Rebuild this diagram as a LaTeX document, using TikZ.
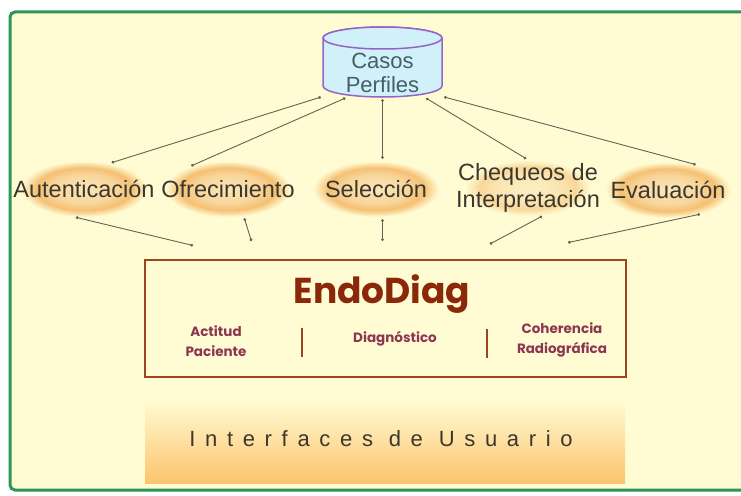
\documentclass[tikz,border=0pt]{standalone}
\usepackage{fontspec}
\setmainfont{Liberation Sans}
\newfontfamily\roundfont{Poppins}
\usetikzlibrary{arrows.meta,shapes.geometric,calc}

\definecolor{BgClr}{RGB}{255,252,212}
\definecolor{FrameClr}{RGB}{45,150,85}
\definecolor{DbFill}{RGB}{208,240,250}
\definecolor{DbLine}{RGB}{150,100,200}
\definecolor{DbText}{RGB}{70,95,100}
\definecolor{GlowIn}{RGB}{251,230,185}
\definecolor{GlowMid}{RGB}{248,214,155}
\definecolor{GlowOut}{RGB}{245,192,115}
\definecolor{LinkClr}{RGB}{100,100,80}
\definecolor{TextClr}{RGB}{60,55,45}
\definecolor{EndoLine}{RGB}{155,70,30}
\definecolor{EndoText}{RGB}{140,40,10}
\definecolor{SubClr}{RGB}{140,55,80}
\definecolor{UiBot}{RGB}{252,196,110}

\pgfdeclareradialshading{glow}{\pgfpoint{0bp}{0bp}}{color(0bp)=(GlowIn); color(13bp)=(GlowMid); color(19bp)=(GlowOut); color(25bp)=(BgClr); color(50bp)=(BgClr)}

\begin{document}
\begin{tikzpicture}[x=1pt,y=-1pt,
  frame/.style={draw=FrameClr,fill=BgClr,line width=3pt,rounded corners=5pt},
  glowell/.style={shape=ellipse,shade,shading=glow,inner sep=0pt,minimum width=126pt,minimum height=56pt},
  lbl/.style={text=TextClr,font=\fontsize{23.5}{27}\selectfont,align=center,inner sep=0pt},
  dbshape/.style={draw=DbLine,fill=DbFill,line width=1.5pt},
  dbnode/.style={minimum width=119pt,minimum height=70pt,inner sep=0pt},
  dbtxt/.style={text=DbText,align=center,inner sep=0pt,font=\fontsize{22}{24}\selectfont},
  link/.style={draw=LinkClr,line width=.9pt,arrows={Circle[length=2.8pt]-Circle[length=2.8pt]},
    shorten <=2pt,shorten >=2pt},
  endobox/.style={draw=EndoLine,line width=2pt,minimum width=481pt,minimum height=117pt},
  subtxt/.style={text=SubClr,font=\roundfont\bfseries\fontsize{13.5}{20}\selectfont,align=center},
  bar/.style={draw=EndoLine,line width=2.5pt},
  uibox/.style={top color=BgClr,bottom color=UiBot,minimum width=480pt,minimum height=84pt,
    text=TextClr,font=\addfontfeature{LetterSpace=44}\fontsize{22}{26}\selectfont}]

\useasboundingbox (0,0) rectangle (741,495);
\draw[frame] (10,12) rectangle (790,490);

% Database of cases: a drum drawn by hand.
\path[dbshape] (323,38) -- (323,86) arc[start angle=180,end angle=360,x radius=59.5pt,y radius=11pt]
  -- (442,38) arc[start angle=0,end angle=180,x radius=59.5pt,y radius=11pt] -- cycle;
\draw[dbshape] (382.5,38) ellipse [x radius=59.5pt,y radius=11pt];
\node[dbnode,label={[dbtxt,yshift=-11pt]center:Casos\\Perfiles}] (db) at (382.5,62) {};

% The five modules.
\node[glowell,label={[lbl]center:Autenticación}] (aut) at (84,189) {};
\node[glowell,label={[lbl]center:Ofrecimiento}] (ofr) at (228,189) {};
\node[glowell,label={[lbl]center:Selección}] (sel) at (376,189) {};
\node[glowell,opacity=.6,label={[lbl,text opacity=1]center:Chequeos de\\Interpretación}] (chk) at (528,188) {};
\node[glowell,label={[lbl]center:Evaluación}] (eva) at (668,190) {};

% Main box.
\node[endobox] (endo) at (385.5,318.5) {};
\node[text=EndoText,font=\roundfont\bfseries\fontsize{36}{40}\selectfont] (title) at (382,294) {EndoDiag};
\node[subtxt] (act) at (216,341) {Actitud\\Paciente};
\node[subtxt] (dia) at (395,339) {Diagnóstico};
\node[subtxt] (coh) at (562,340) {Coherencia\\Radiográfica};
\draw[bar] (302,328) -- (302,357);
\draw[bar] (487,329) -- (487,358);

\node[uibox] (ui) at (385,441) {};
\node[text=TextClr,font=\addfontfeature{LetterSpace=44}\fontsize{22}{26}\selectfont] (uitxt) at (381,439) {Interfaces de Usuario};

% Links to the database.
\draw[link] (db.-150) -- (aut.45);
\draw[link] (db.-135) -- (ofr.150);
\draw[link] (db.-90) -- (db.-90 |- sel.north);
\draw[link] (db.-40) -- (chk.north);
\draw[link] (db.-30) -- (eva.40);

% Links to the main box.
\draw[link] (aut.-110) -- ([xshift=51pt,yshift=13pt]endo.north west);
\draw[link] (ofr.-60) -- ([xshift=108pt,yshift=16pt]endo.north west);
\draw[link] (db.-90 |- sel.south) -- ([yshift=16pt]db.-90 |- endo.north);
\draw[link] (chk.-60) -- ([xshift=-139pt,yshift=14pt]endo.north east);
\draw[link] (eva.-35) -- ([xshift=-61pt,yshift=16pt]endo.north east);

\end{tikzpicture}
\end{document}
